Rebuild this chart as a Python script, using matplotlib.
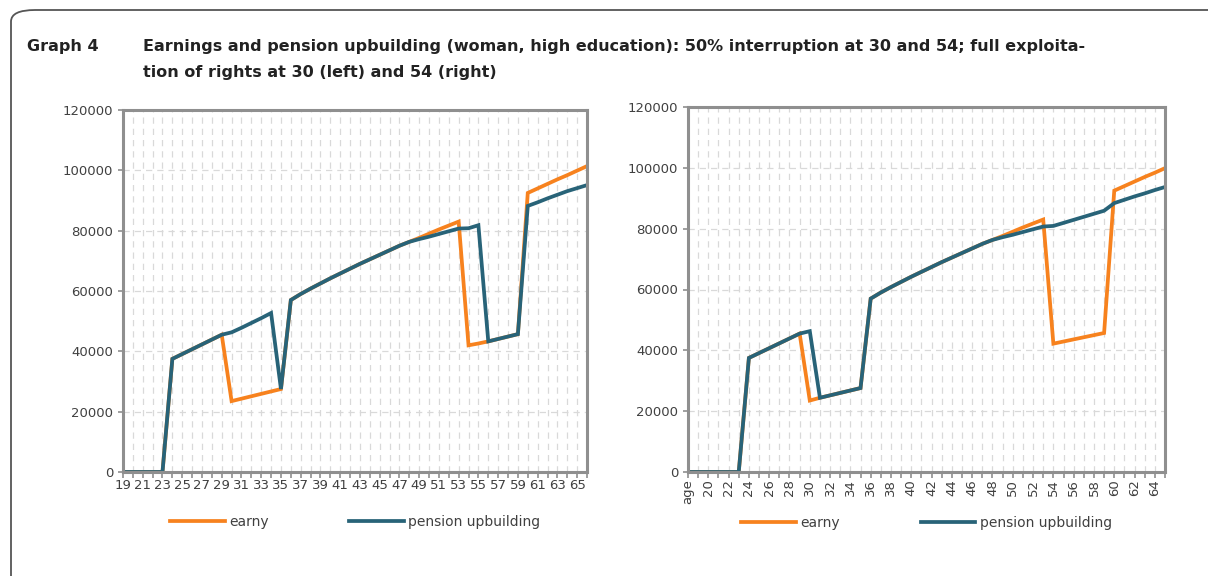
#!/usr/bin/env python3

import matplotlib
matplotlib.use('Agg')
import matplotlib.pyplot as plt
from matplotlib.patches import FancyBboxPatch

# left panel: ages 19..66
ages_left = [str(a) for a in range(19, 67)]
earny_left = [0, 0, 0, 0, 0,
              37500, 39100, 40700, 42300, 43900, 45500,
              23500, 24300, 25100, 25900, 26700, 27500,
              57000, 59000, 60800, 62500, 64200, 65800, 67400, 69000, 70500, 72000, 73500, 75000, 76300,
              77600, 79000, 80400, 81700, 83000,
              42000, 42600, 43300, 44100, 44900, 45700,
              92500, 94000, 95500, 97000, 98400, 99900, 101400]
pension_left = [0, 0, 0, 0, 0,
                37500, 39100, 40700, 42300, 43900, 45500,
                46300, 47800, 49400, 51000, 52700, 27500,
                57000, 59000, 60800, 62500, 64200, 65800, 67400, 69000, 70500, 72000, 73500, 75000, 76300,
                77200, 78000, 78900, 79800, 80700, 80800, 81800,
                43300, 44100, 44900, 45700,
                88200, 89400, 90700, 91900, 93100, 94100, 95100]

# right panel: header cell "age" ended up in the category range
ages_right = ['age'] + [str(a) for a in range(19, 66)]
earny_right = [0, 0, 0, 0, 0, 0,
               37500, 39100, 40700, 42300, 43900, 45500,
               23500, 24400, 25200, 26000, 26800, 27600,
               57000, 59000, 60800, 62500, 64200, 65800, 67400, 69000, 70500, 72000, 73500, 75000, 76300,
               77600, 79000, 80400, 81700, 83000,
               42200, 42900, 43600, 44300, 45000, 45700,
               92500, 94000, 95500, 97000, 98400, 99900]
pension_right = [0, 0, 0, 0, 0, 0,
                 37500, 39100, 40700, 42300, 43900, 45500,
                 46300, 24400, 25200, 26000, 26800, 27600,
                 57000, 59000, 60800, 62500, 64200, 65800, 67400, 69000, 70500, 72000, 73500, 75000, 76300,
                 77200, 78000, 78900, 79800, 80700, 80900, 81900, 82900, 83900, 84900, 85900,
                 88400, 89500, 90600, 91600, 92700, 93700]

yticks = [0, 20000, 40000, 60000, 80000, 100000, 120000]

ORANGE = '#f7821e'
BLUE = '#286378'
AXIS = '#8f8f8f'
GRID = '#d9d9d9'
TEXT = '#404040'


def panel(ax, cats, earny, pension, rotate):
    x = range(len(cats))
    ax.plot(x, earny, color=ORANGE, lw=2.7, label='earny', solid_joinstyle='miter')
    ax.plot(x, pension, color=BLUE, lw=2.7, label='pension upbuilding', solid_joinstyle='miter')
    ax.set_xlim(0, len(cats) - 1)
    ax.set_ylim(0, 120000)
    ax.set_yticks(yticks)
    ax.set_yticklabels([str(v) for v in yticks])
    ax.set_xticks(list(x))
    ax.set_xticklabels([c if i % 2 == 0 else '' for i, c in enumerate(cats)],
                       rotation=90 if rotate else 0)
    ax.grid(True, color=GRID, ls=(0, (5, 4)), lw=0.9)
    ax.set_axisbelow(True)
    for s in ax.spines.values():
        s.set_color(AXIS)
        s.set_linewidth(2.2)
    ax.tick_params(axis='x', colors=AXIS, labelcolor=TEXT, length=4, width=1.2,
                   labelsize=9.5, pad=1)
    ax.tick_params(axis='y', colors=AXIS, labelcolor=TEXT, length=3.5, width=1.2,
                   labelsize=9.5, pad=3.5)
    ax.legend(loc='upper center', bbox_to_anchor=(0.5, -0.085),
              ncol=2, frameon=False, handlelength=3.95, columnspacing=5.8,
              handletextpad=0.3, fontsize=10, labelcolor=TEXT)


def main():
    plt.rcParams['font.family'] = ['DejaVu Sans']
    fig = plt.figure(figsize=(12.08, 5.76), dpi=100)

    # rounded frame, cut off at right and bottom
    frame = FancyBboxPatch((11 / 1208, -1.0), 1.5, 2.0 - 10 / 576,
                           boxstyle='round,pad=0,rounding_size=0.02',
                           transform=fig.transFigure, fill=False,
                           ec='#555555', lw=1.3)
    fig.patches.append(frame)

    fig.text(27 / 1208, 1 - 47 / 576, 'Graph 4', fontsize=11.5, fontweight='bold',
             color='#222222', va='center', ha='left')
    fig.text(143 / 1208, 1 - 47 / 576,
             'Earnings and pension upbuilding (woman, high education): 50% interruption at 30 and 54; full exploita-',
             fontsize=11.5, fontweight='bold', color='#222222', va='center', ha='left')
    fig.text(143 / 1208, 1 - 73 / 576, 'tion of rights at 30 (left) and 54 (right)',
             fontsize=11.5, fontweight='bold', color='#222222', va='center', ha='left')

    ax1 = fig.add_axes([123 / 1208, 1 - 472 / 576, 464 / 1208, 362 / 576])
    panel(ax1, ages_left, earny_left, pension_left, False)

    ax2 = fig.add_axes([688 / 1208, 1 - 472 / 576, 477 / 1208, 365 / 576])
    panel(ax2, ages_right, earny_right, pension_right, True)

    fig.savefig('out.png', dpi=100)


if __name__ == "__main__":
    main()
